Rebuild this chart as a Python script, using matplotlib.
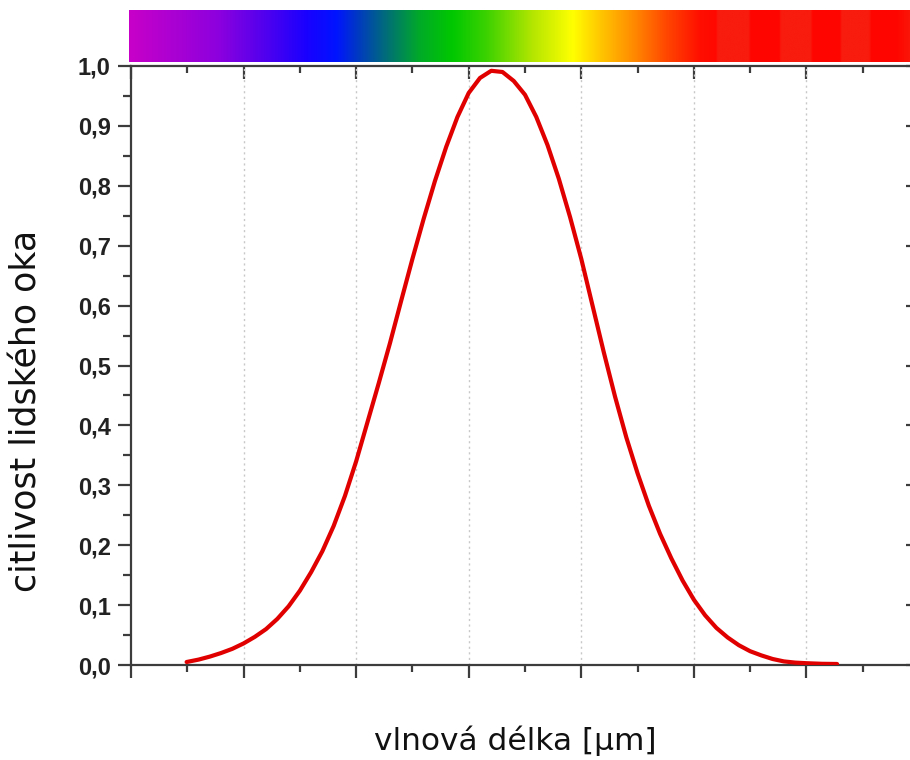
import matplotlib
matplotlib.use("Agg")
import matplotlib.pyplot as plt
import numpy as np
from matplotlib.colors import LinearSegmentedColormap
from matplotlib.ticker import MultipleLocator, FixedLocator

# ---- data: relative sensitivity of the human eye ----
wavelength_um = [0.4247, 0.430, 0.435, 0.440, 0.445, 0.450, 0.455, 0.460, 0.465, 0.470,
                 0.475, 0.480, 0.485, 0.490, 0.495, 0.500, 0.505, 0.510, 0.515, 0.520,
                 0.525, 0.530, 0.535, 0.540, 0.545, 0.550, 0.555, 0.560, 0.565, 0.570,
                 0.575, 0.580, 0.585, 0.590, 0.595, 0.600, 0.605, 0.610, 0.615, 0.620,
                 0.625, 0.630, 0.635, 0.640, 0.645, 0.650, 0.655, 0.660, 0.665, 0.670,
                 0.675, 0.680, 0.685, 0.690, 0.695, 0.700, 0.707, 0.7136]
sensitivity = [0.005, 0.009, 0.014, 0.020, 0.027, 0.036, 0.047, 0.060, 0.077, 0.098,
               0.124, 0.155, 0.190, 0.232, 0.282, 0.340, 0.405, 0.470, 0.537, 0.608,
               0.678, 0.745, 0.808, 0.865, 0.915, 0.955, 0.980, 0.992, 0.990, 0.975,
               0.952, 0.915, 0.868, 0.812, 0.748, 0.678, 0.600, 0.522, 0.448, 0.380,
               0.320, 0.266, 0.219, 0.178, 0.141, 0.109, 0.083, 0.062, 0.046, 0.033,
               0.023, 0.016, 0.010, 0.006, 0.004, 0.003, 0.002, 0.0017]

y_ticks = [0.0, 0.1, 0.2, 0.3, 0.4, 0.5, 0.6, 0.7, 0.8, 0.9, 1.0]
y_tick_labels = ["0,0", "0,1", "0,2", "0,3", "0,4", "0,5", "0,6", "0,7", "0,8", "0,9", "1,0"]
x_major_ticks = [0.40, 0.45, 0.50, 0.55, 0.60, 0.65, 0.70, 0.75]

# spectrum strip colour stops (wavelength in um, RGB 0-255)
spectrum_wl = [0.3996, 0.4396, 0.4618, 0.4782, 0.4916, 0.5018, 0.5138, 0.5284,
               0.5431, 0.5582, 0.5787, 0.5964, 0.6084, 0.6231, 0.6382, 0.6529,
               0.6600, 0.6610, 0.6745, 0.6755, 0.6880, 0.6890, 0.7020, 0.7030,
               0.7150, 0.7160, 0.7280, 0.7290, 0.7400, 0.7500]
spectrum_rgb = [(200, 0, 200), (140, 0, 222), (75, 0, 240), (25, 0, 255), (0, 20, 255),
                (0, 60, 190), (0, 110, 120), (0, 170, 40), (0, 200, 0), (60, 210, 0),
                (180, 230, 0), (255, 255, 0), (255, 200, 0), (255, 140, 0), (255, 70, 0),
                (255, 15, 0), (255, 8, 0), (248, 28, 14), (248, 28, 14), (255, 5, 0),
                (255, 5, 0), (248, 28, 14), (248, 28, 14), (255, 5, 0),
                (255, 5, 0), (248, 28, 14), (248, 28, 14), (255, 5, 0), (255, 5, 0),
                (248, 32, 14)]

# ---- figure ----
W, H = 910, 760
fig = plt.figure(figsize=(W / 100, H / 100), dpi=100)
fig.patch.set_facecolor("white")

x0, x1 = 131, 919
y_top, y_bot = 66, 665
ax = fig.add_axes([x0 / W, 1 - y_bot / H, (x1 - x0) / W, (y_bot - y_top) / H])
ax.set_xlim(0.40, 0.75)
ax.set_ylim(0.0, 1.0)

spine_c = "#3c3c3c"
for s in ax.spines.values():
    s.set_color(spine_c)
    s.set_linewidth(1.6)

ax.plot(wavelength_um, sensitivity, color="#e00000", lw=3.0, solid_capstyle="round",
        solid_joinstyle="round", zorder=3)

# grid (vertical dotted)
for xv in x_major_ticks[1:]:
    ax.axvline(xv, color="#c8c8c8", lw=1.0, ls=(0, (1.5, 2.5)), zorder=1)

ax.xaxis.set_major_locator(FixedLocator(x_major_ticks))
ax.xaxis.set_minor_locator(MultipleLocator(0.025))
ax.yaxis.set_major_locator(FixedLocator(y_ticks))
ax.yaxis.set_minor_locator(MultipleLocator(0.05))
ax.set_yticklabels(y_tick_labels)
ax.set_xticklabels([])

ax.tick_params(axis="x", which="major", direction="out", length=9.5, width=1.6,
               color=spine_c, bottom=True, top=False)
ax.tick_params(axis="x", which="minor", direction="out", length=5, width=1.6,
               color=spine_c, bottom=True, top=False)
ax.tick_params(axis="y", which="major", direction="out", length=9.5, width=1.6,
               color=spine_c, left=True, right=False, pad=5)
ax.tick_params(axis="y", which="minor", direction="out", length=5.5, width=1.6,
               color=spine_c, left=True, right=False)
for lab in ax.get_yticklabels():
    lab.set_fontfamily("Liberation Sans")
    lab.set_fontweight("bold")
    lab.set_fontsize(17)
    lab.set_color("#222222")

# inward ticks on top and right
axt = ax.secondary_xaxis("top")
axt.xaxis.set_major_locator(FixedLocator(x_major_ticks))
axt.xaxis.set_minor_locator(MultipleLocator(0.025))
axt.tick_params(which="major", direction="in", length=9.5, width=1.6, color=spine_c, labeltop=False)
axt.tick_params(which="minor", direction="in", length=5, width=1.6, color=spine_c)
axt.spines["top"].set_visible(False)
axr = ax.secondary_yaxis("right")
axr.yaxis.set_major_locator(FixedLocator(y_ticks))
axr.yaxis.set_minor_locator(MultipleLocator(0.05))
axr.tick_params(which="major", direction="in", length=9.5, width=1.6, color=spine_c, labelright=False)
axr.tick_params(which="minor", direction="in", length=5, width=1.6, color=spine_c)
axr.spines["right"].set_visible(False)

# spectrum strip
cb_top, cb_bot = 10, 62
axc = fig.add_axes([129 / W, 1 - cb_bot / H, (x1 - 129) / W, (cb_bot - cb_top) / H])
stops = [(w - spectrum_wl[0]) / (spectrum_wl[-1] - spectrum_wl[0]) for w in spectrum_wl]
cmap = LinearSegmentedColormap.from_list(
    "spec", list(zip(stops, [tuple(c / 255 for c in rgb) for rgb in spectrum_rgb])), N=1024)
grad = np.linspace(0, 1, 1024)[None, :]
axc.imshow(grad, aspect="auto", cmap=cmap,
           extent=[spectrum_wl[0], spectrum_wl[-1], 0, 1], interpolation="bilinear")
axc.set_xlim(spectrum_wl[0], 0.75)
axc.set_ylim(0, 1)
axc.set_xticks([])
axc.set_yticks([])
for s in axc.spines.values():
    s.set_visible(False)

# axis labels
fig.text(515 / W, 1 - 750 / H, "vlnová délka [µm]", ha="center", va="baseline",
         fontsize=22.5, family="DejaVu Sans", color="#111111")
fig.text(27 / W, 1 - 411 / H, "citlivost lidského oka", ha="center", va="center",
         rotation=90, fontsize=25, family="DejaVu Sans", color="#111111")

fig.savefig("out.png", dpi=100)
